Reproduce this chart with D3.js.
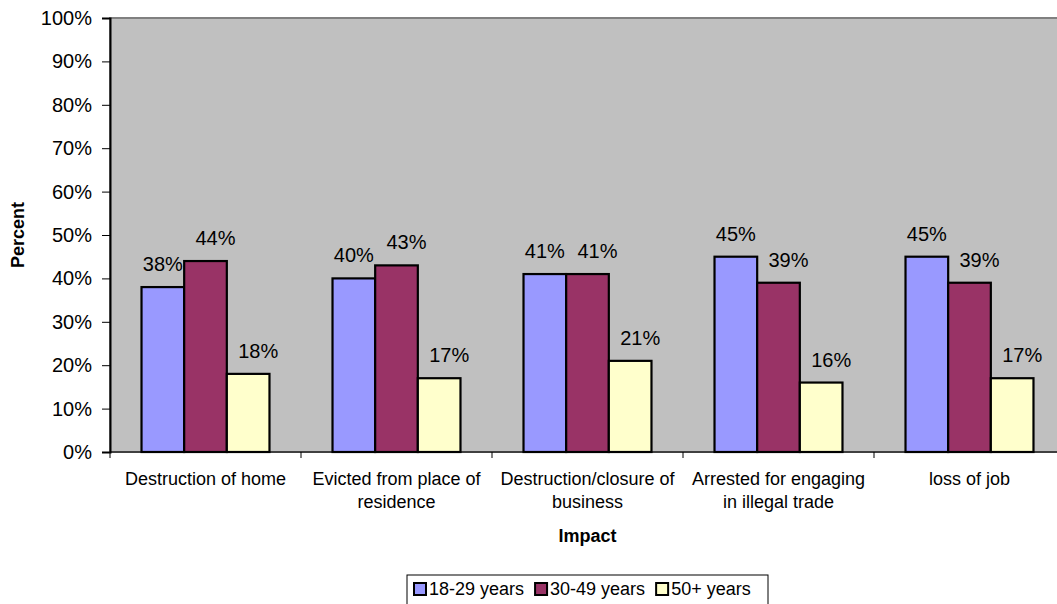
<!DOCTYPE html>
<html>
<head>
<meta charset="utf-8">
<script src="https://cdn.jsdelivr.net/npm/d3@7"></script>
<style>
  html, body { margin: 0; padding: 0; background: #fff; }
  svg { display: block; font-family: "Liberation Sans", Arial, sans-serif; }
</style>
</head>
<body>
<svg id="chart" width="1057" height="604"></svg>
<script>
const categories = [
  "Destruction of home",
  "Evicted from place of residence",
  "Destruction/closure of business",
  "Arrested for engaging in illegal trade",
  "loss of job"
];
const seriesNames = ["18-29 years", "30-49 years", "50+ years"];
const values18_29 = [38, 40, 41, 45, 45];
const values30_49 = [44, 43, 41, 39, 39];
const values50plus = [18, 17, 21, 16, 17];
const yTicks = [0, 10, 20, 30, 40, 50, 60, 70, 80, 90, 100];
const colors = ["#9999FF", "#993366", "#FFFFCC"];

const seriesValues = [values18_29, values30_49, values50plus];

const svg = d3.select("#chart");
const pLeft = 110, pRight = 1065, pTop = 18, pBottom = 452;

const x0 = d3.scaleBand().domain(categories).range([pLeft, pRight]).paddingInner(0.33).paddingOuter(0.165);
const x1 = d3.scaleBand().domain(seriesNames).range([0, x0.bandwidth()]).padding(0);
const y = d3.scaleLinear().domain([0, 100]).range([pBottom, pTop]);

// plot area
svg.append("rect").attr("x", pLeft).attr("y", pTop).attr("width", pRight - pLeft).attr("height", pBottom - pTop)
  .attr("fill", "#C0C0C0").attr("stroke", "#808080").attr("stroke-width", 2);

// bars
categories.forEach((cat, ci) => {
  seriesNames.forEach((s, si) => {
    const v = seriesValues[si][ci];
    svg.append("rect")
      .attr("x", x0(cat) + x1(s))
      .attr("y", y(v))
      .attr("width", x1.bandwidth())
      .attr("height", y(0) - y(v))
      .attr("fill", colors[si])
      .attr("stroke", "#000")
      .attr("stroke-width", 2.2);
  });
});

// data labels
const labelShift = [0, 10, 10];
categories.forEach((cat, ci) => {
  seriesNames.forEach((s, si) => {
    const v = seriesValues[si][ci];
    svg.append("text")
      .attr("x", x0(cat) + x1(s) + x1.bandwidth() / 2 + labelShift[si])
      .attr("y", y(v) - 16)
      .attr("text-anchor", "middle")
      .attr("font-size", 20)
      .attr("fill", "#000")
      .text(v + "%");
  });
});

// y axis
const yAxis = d3.axisLeft(y).tickValues(yTicks).tickFormat(d => d + "%").tickSize(8).tickPadding(10);
const gy = svg.append("g").attr("transform", `translate(${pLeft},0)`).call(yAxis);
gy.select(".domain").attr("stroke", "#000").attr("stroke-width", 2);
gy.selectAll(".tick line").attr("stroke", "#000");
gy.selectAll(".tick text").attr("font-size", 20).attr("fill", "#000")
  .attr("font-family", "Liberation Sans, Arial, sans-serif");

// x axis line + category ticks
svg.append("line").attr("x1", pLeft).attr("x2", pRight).attr("y1", pBottom).attr("y2", pBottom)
  .attr("stroke", "#000").attr("stroke-width", 1.2);
const step = x0.step();
d3.range(categories.length + 1).forEach(i => {
  const xx = pLeft + i * step;
  svg.append("line").attr("x1", xx).attr("x2", xx).attr("y1", pBottom).attr("y2", pBottom + 6)
    .attr("stroke", "#000");
});

// category labels with wrapping
categories.forEach(cat => {
  const cx = x0(cat) + x0.bandwidth() / 2;
  const t = svg.append("text").attr("x", cx).attr("y", 485)
    .attr("text-anchor", "middle").attr("font-size", 18).attr("fill", "#000");
  const words = cat.split(" ");
  let line = [];
  let lineNo = 0;
  let tspan = t.append("tspan").attr("x", cx).attr("y", 485);
  words.forEach(w => {
    line.push(w);
    tspan.text(line.join(" "));
    if (tspan.node().getComputedTextLength() > 185 && line.length > 1) {
      line.pop();
      tspan.text(line.join(" "));
      line = [w];
      lineNo++;
      tspan = t.append("tspan").attr("x", cx).attr("y", 485 + lineNo * 23).text(w);
    }
  });
});

// axis titles
svg.append("text").attr("x", (pLeft + pRight) / 2).attr("y", 542)
  .attr("text-anchor", "middle").attr("font-size", 18).attr("font-weight", "bold").text("Impact");
svg.append("text").attr("transform", "translate(24,235) rotate(-90)")
  .attr("text-anchor", "middle").attr("font-size", 18).attr("font-weight", "bold").text("Percent");

// legend
const lg = svg.append("g");
lg.append("rect").attr("x", 407).attr("y", 575).attr("width", 361).attr("height", 40)
  .attr("fill", "#fff").attr("stroke", "#000").attr("stroke-width", 1);
let lx = 414;
seriesNames.forEach((s, i) => {
  lg.append("rect").attr("x", lx).attr("y", 583).attr("width", 12).attr("height", 12)
    .attr("fill", colors[i]).attr("stroke", "#000").attr("stroke-width", 2);
  const tx = lg.append("text").attr("x", lx + 15).attr("y", 595).attr("font-size", 18).attr("fill", "#000").text(s);
  lx = lx + 15 + tx.node().getComputedTextLength() + 11;
});
</script>
</body>
</html>
